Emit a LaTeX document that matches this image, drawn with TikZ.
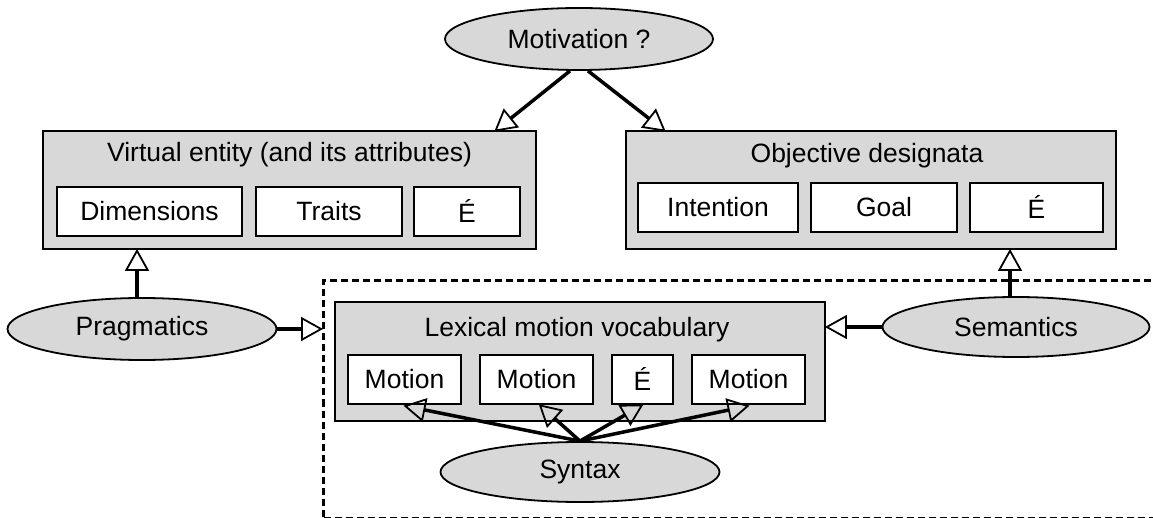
\documentclass[tikz,border=0pt]{standalone}
\usepackage{fontspec}
\setmainfont{Liberation Sans}
\usetikzlibrary{arrows.meta,shapes.geometric}
\definecolor{lightg}{RGB}{216,216,216}
\tikzset{
  every node/.style={font=\fontsize{26.5}{30}\selectfont, inner sep=0pt},
  grp/.style={draw, line width=1.8pt, fill=lightg, rectangle},
  item/.style={draw, line width=1.8pt, fill=white, rectangle, minimum height=49pt},
  oval/.style={draw, line width=1.8pt, fill=lightg, ellipse},
  arr/.style={line width=3.5pt, -{Triangle[open, length=22pt, width=24pt, line width=1.8pt]}, shorten >=-1pt},
}
\begin{document}
\begin{tikzpicture}[x=1pt, y=-1pt]
\useasboundingbox (0,0) rectangle (1153,518);
% dashed region
\node (dashreg) [draw, line width=3pt, dash pattern=on 7pt off 4pt, rectangle, minimum width=850pt, minimum height=238pt, anchor=north west] at (322,279) {};
% top ellipse
\node (mot) [oval, minimum width=268pt, minimum height=62pt] at (579,39) {Motivation ?};
% virtual entity box
\node (vbox) [grp, minimum width=493pt, minimum height=118pt] at (289.5,190) {};
\node (vtitle) at (289.5,155) {Virtual entity (and its attributes)};
\node (dim) [item, minimum width=185pt] at (149.5,211.5) {Dimensions};
\node (traits) [item, minimum width=146pt] at (329,211.5) {Traits};
\node (e1) [item, minimum width=106pt] at (467,211.5) {É};
% objective designata box
\node (obox) [grp, minimum width=490pt, minimum height=118pt] at (871,190) {};
\node (otitle) at (867,156) {Objective designata};
\node (intent) [item, minimum width=160pt] at (718,207.5) {Intention};
\node (goal) [item, minimum width=146pt] at (884,207.5) {Goal};
\node (e2) [item, minimum width=133pt] at (1036.5,207.5) {É};
% lexical box
\node (lex) [grp, minimum width=490pt, minimum height=119pt] at (580,361.5) {};
\node (ltitle) at (577,330) {Lexical motion vocabulary};
\node (m1) [item, minimum width=113pt] at (404.5,379.5) {Motion};
\node (m2) [item, minimum width=113pt] at (536.5,379.5) {Motion};
\node (e3) [item, minimum width=61pt] at (642.5,379.5) {É};
\node (m3) [item, minimum width=113pt] at (748.5,379.5) {Motion};
% ellipses
\node (prag) [oval, minimum width=269pt, minimum height=62pt] at (142,329) {Pragmatics};
\node (sem) [oval, minimum width=267pt, minimum height=60pt] at (1016,327) {Semantics};
\node (syn) [oval, minimum width=279pt, minimum height=60pt] at (580,472) {Syntax};
% arrow targets
\coordinate (vtip) at (495,131);
\coordinate (otip) at (665,131);
% connectors
\draw[arr] ([xshift=-9pt]mot.south) -- (vtip);
\draw[arr] ([xshift=9pt]mot.south) -- (otip);
\draw[arr] ([xshift=-5pt]prag.north) -- ([xshift=-5pt]prag.north |- vbox.south);
\draw[arr] ([xshift=-6pt]sem.north) -- ([xshift=-6pt]sem.north |- obox.south);
\draw[arr] (prag.east) -- (prag.east -| dashreg.west);
\draw[arr] (sem.west) -- (sem.west -| lex.east);
\draw[arr] (syn.north) -- ([yshift=-1pt]m1.south);
\draw[arr] (syn.north) -- ([xshift=3pt]m2.south);
\draw[arr] (syn.north) -- (e3.south);
\draw[arr] (syn.north) -- ([yshift=-1pt]m3.south);
\end{tikzpicture}
\end{document}
